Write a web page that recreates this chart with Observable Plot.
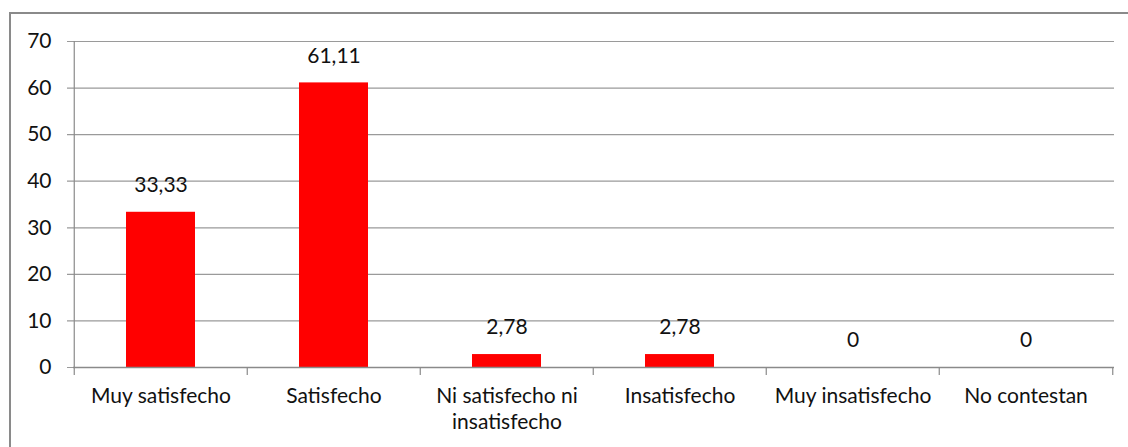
<!DOCTYPE html>
<html>
<head>
<meta charset="utf-8">
<script src="https://cdn.jsdelivr.net/npm/d3@7"></script>
<script src="https://cdn.jsdelivr.net/npm/@observablehq/plot@0.6"></script>
<style>
  html, body { margin: 0; padding: 0; background: #fff; overflow: hidden; }
  #wrap { position: relative; width: 1128px; height: 447px; }
  #frame { position: absolute; left: 9px; top: 12px; width: 1200px; height: 500px;
           border: 2px solid #8a8a8a; box-sizing: border-box; pointer-events: none; }
  #chart { position: absolute; left: 0; top: 0; }
</style>
</head>
<body>
<div id="wrap"><div id="frame"></div><div id="chart"></div></div>
<script>
const categories = ["Muy satisfecho", "Satisfecho", "Ni satisfecho ni\ninsatisfecho", "Insatisfecho", "Muy insatisfecho", "No contestan"];
const values = [33.33, 61.11, 2.78, 2.78, 0, 0];
const yTicks = [0, 10, 20, 30, 40, 50, 60, 70];

const data = categories.map((c, i) => ({cat: c, value: values[i], label: String(values[i]).replace(".", ",")}));

const W = 1128, H = 447;
const mL = 73, mR = 14, mT = 41, mB = 80;
const step = (W - mL - mR) / categories.length;
const font = "Lato, 'Open Sans', sans-serif";
const axisColor = "#8a8a8a";
const textColor = "#111";

const chart = Plot.plot({
  width: W,
  height: H,
  marginLeft: mL,
  marginRight: mR,
  marginTop: mT,
  marginBottom: mB,
  style: {fontFamily: font, fontSize: "21px", color: textColor, background: "transparent"},
  x: {domain: categories, paddingInner: 0.6, paddingOuter: 0.3, label: null},
  y: {domain: [0, 70], label: null},
  marks: [
    Plot.ruleY(yTicks, {stroke: "#9a9a9a", strokeWidth: 1.2, insetLeft: -6}),
    Plot.axisY({ticks: yTicks, tickSize: 0, tickPadding: 22, fontSize: 21, fill: textColor, label: null}),
    Plot.barY(data, {x: "cat", y: "value", fill: "#ff0000"}),
    Plot.ruleX([categories[0]], {x: d => d, dx: -step / 2, y1: 0, y2: 70, stroke: axisColor, strokeWidth: 1.2}),
    Plot.ruleY([0], {stroke: axisColor, strokeWidth: 1.5}),
    Plot.ruleX(categories, {x: d => d, dx: -step / 2, y1: 0, y2: 0, insetBottom: -8, stroke: axisColor, strokeWidth: 1.2}),
    Plot.ruleX([categories[categories.length - 1]], {x: d => d, dx: step / 2, y1: 0, y2: 0, insetBottom: -8, stroke: axisColor, strokeWidth: 1.2}),
    Plot.axisX({tickSize: 0, tickPadding: 17, fontSize: 21, fill: textColor, lineHeight: 1.24, label: null}),
    Plot.text(data, {x: "cat", y: "value", text: "label", dy: -27, fontSize: 21, fill: textColor})
  ]
});

document.getElementById("chart").append(chart);
</script>
</body>
</html>
